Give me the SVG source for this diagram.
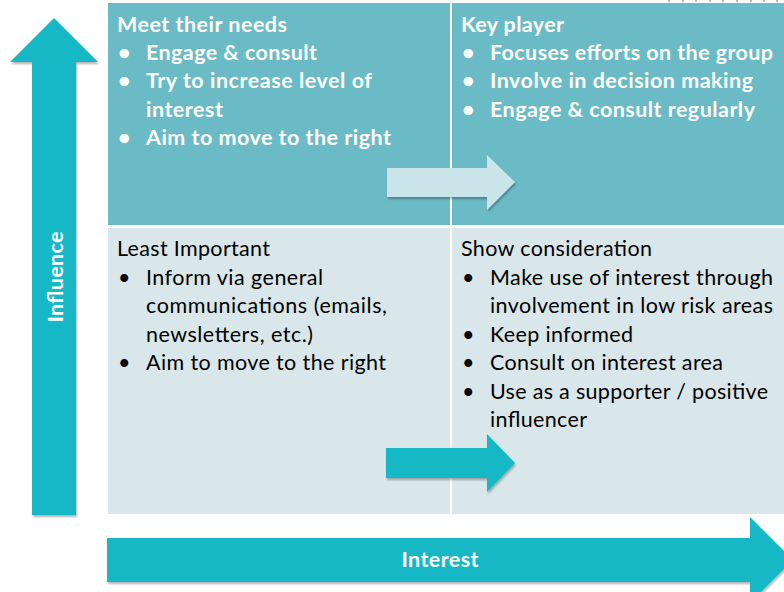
<svg xmlns="http://www.w3.org/2000/svg" width="784" height="592" viewBox="0 0 784 592">
<defs>
<style>
.top{fill:#6ABBC5}
.bot{fill:#D9E7EA}
.arr{fill:#14B8C5}
.lt{fill:#C9E5E9}
.hw{font-family:Lato,"Liberation Sans",sans-serif;font-size:21.5px;font-weight:bold;fill:#FFFFFF}
.nb{font-family:Lato,"Liberation Sans",sans-serif;font-size:21.5px;fill:#000000}
.tick{fill:#BBBBBB}
</style>
<filter id="sh" x="-10%" y="-10%" width="130%" height="130%">
<feDropShadow dx="1" dy="2" stdDeviation="1.2" flood-color="#000" flood-opacity="0.3"/>
</filter>
</defs>
<rect width="784" height="592" fill="#FFFFFF"/>
<g id="ticks">
<rect class="tick" x="668" y="0" width="2" height="2"/>
<rect class="tick" x="682" y="0" width="2" height="2"/>
<rect class="tick" x="695" y="0" width="2" height="2"/>
<rect class="tick" x="709" y="0" width="2" height="2"/>
<rect class="tick" x="722" y="0" width="2" height="2"/>
<rect class="tick" x="736" y="0" width="2" height="2"/>
<rect class="tick" x="750" y="0" width="2" height="2"/>
<rect class="tick" x="763" y="0" width="2" height="2"/>
<rect class="tick" x="776" y="0" width="2" height="2"/>
</g>
<g id="cell-meet">
<rect class="top" x="108" y="3" width="342" height="222"/>
<text class="hw" x="117" y="32" textLength="170">Meet their needs</text>
<text class="hw" x="118" y="60">•</text><text class="hw" x="146" y="60" textLength="171">Engage &amp; consult</text>
<text class="hw" x="118" y="88">•</text><text class="hw" x="146" y="88" textLength="226">Try to increase level of</text>
<text class="hw" x="146" y="117" textLength="77">interest</text>
<text class="hw" x="118" y="145">•</text><text class="hw" x="146" y="145" textLength="245">Aim to move to the right</text>
</g>
<g id="cell-key">
<rect class="top" x="452" y="3" width="332" height="222"/>
<text class="hw" x="461" y="32" textLength="103">Key player</text>
<text class="hw" x="462" y="60">•</text><text class="hw" x="490" y="60" textLength="283">Focuses efforts on the group</text>
<text class="hw" x="462" y="88">•</text><text class="hw" x="490" y="88" textLength="263">Involve in decision making</text>
<text class="hw" x="462" y="117">•</text><text class="hw" x="490" y="117" textLength="265">Engage &amp; consult regularly</text>
</g>
<g id="cell-least">
<rect class="bot" x="108" y="228" width="342" height="286"/>
<text class="nb" x="117" y="256" textLength="153">Least Important</text>
<text class="nb" x="118" y="285">•</text><text class="nb" x="146" y="285" textLength="177">Inform via general</text>
<text class="nb" x="146" y="313" textLength="241">communications (emails,</text>
<text class="nb" x="146" y="342" textLength="167">newsletters, etc.)</text>
<text class="nb" x="118" y="370">•</text><text class="nb" x="146" y="370" textLength="240">Aim to move to the right</text>
</g>
<g id="cell-show">
<rect class="bot" x="452" y="228" width="332" height="286"/>
<text class="nb" x="461" y="256" textLength="191">Show consideration</text>
<text class="nb" x="462" y="285">•</text><text class="nb" x="490" y="285" textLength="283">Make use of interest through</text>
<text class="nb" x="490" y="313" textLength="283">involvement in low risk areas</text>
<text class="nb" x="462" y="342">•</text><text class="nb" x="490" y="342" textLength="143">Keep informed</text>
<text class="nb" x="462" y="370">•</text><text class="nb" x="490" y="370" textLength="233">Consult on interest area</text>
<text class="nb" x="462" y="399">•</text><text class="nb" x="490" y="399" textLength="278">Use as a supporter / positive</text>
<text class="nb" x="490" y="427" textLength="97">influencer</text>
</g>
<g id="connectors">
<path class="lt" filter="url(#sh)" d="M387,168 H487 V155 L515,182 L487,210 V197 H387 Z"/>
<path class="arr" filter="url(#sh)" d="M386,448 H487 V434 L515,463 L487,492 V478 H386 Z"/>
</g>
<g id="influence-axis">
<path class="arr" filter="url(#sh)" d="M32,515 V62 H10 L54,18 L98,62 H76 V515 Z"/>
<text class="hw" transform="translate(63,277) rotate(-90)" text-anchor="middle" textLength="91">Influence</text>
</g>
<g id="interest-axis">
<path class="arr" filter="url(#sh)" d="M107,538 H750 V517 L793,560 L750,603 V582 H107 Z"/>
<text class="hw" x="440" y="567" text-anchor="middle" textLength="77">Interest</text>
</g>
</svg>
